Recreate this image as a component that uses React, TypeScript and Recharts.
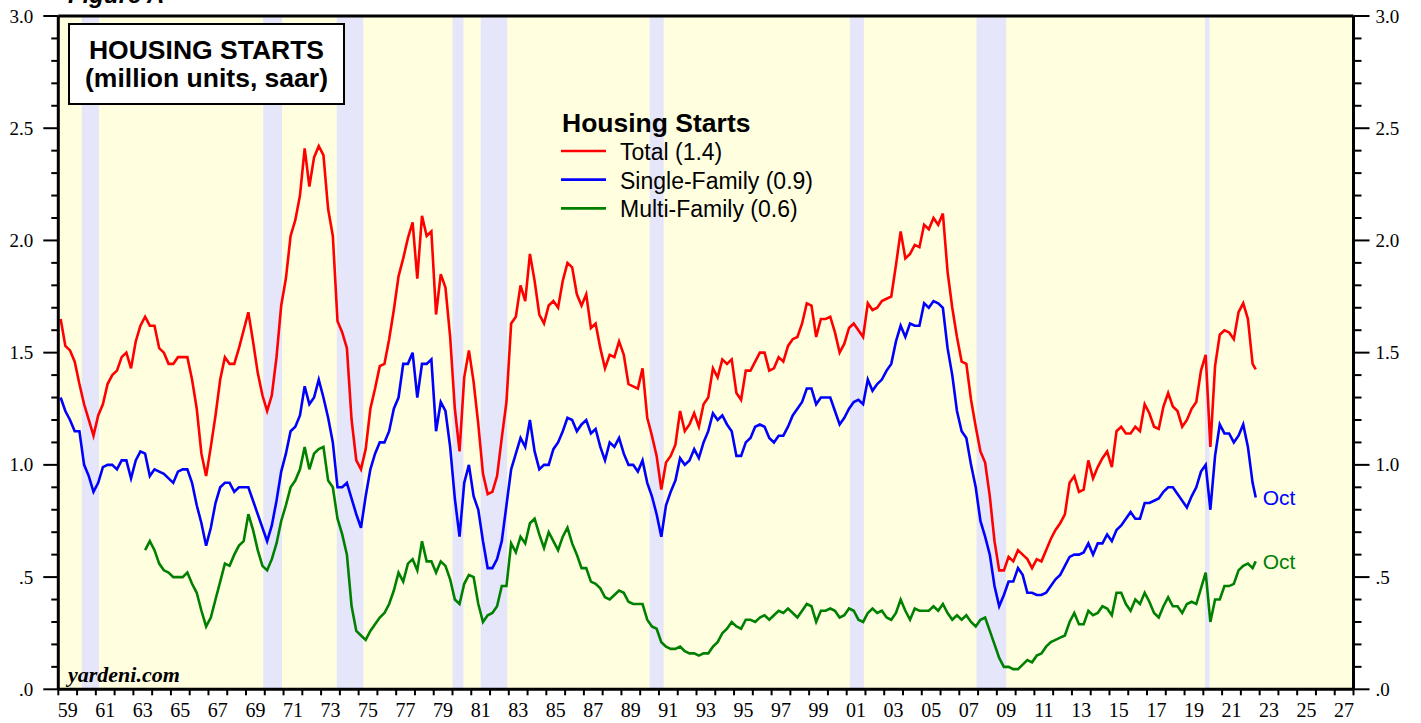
import React from 'react';
import { LineChart, Line, XAxis, YAxis, ReferenceArea, ReferenceLine } from 'recharts';

// ---------------- data (quarterly, million units saar) ----------------
const FIRST_YEAR = 1959;
const LAST_AXIS_YEAR = 2028;
const MULTI_START_INDEX = 18; // multi-family series begins 1963 Q3

const totalStarts = [
  1.65, 1.53, 1.51, 1.46, // 1959
  1.36, 1.27, 1.2, 1.13, // 1960
  1.22, 1.27, 1.36, 1.4, // 1961
  1.42, 1.48, 1.5, 1.43, // 1962
  1.55, 1.62, 1.66, 1.62, // 1963
  1.62, 1.52, 1.5, 1.45, // 1964
  1.45, 1.48, 1.48, 1.48, // 1965
  1.38, 1.25, 1.05, 0.95, // 1966
  1.08, 1.22, 1.38, 1.48, // 1967
  1.45, 1.45, 1.52, 1.6, // 1968
  1.68, 1.55, 1.41, 1.31, // 1969
  1.24, 1.31, 1.48, 1.71, // 1970
  1.83, 2.02, 2.09, 2.2, // 1971
  2.41, 2.24, 2.37, 2.42, // 1972
  2.38, 2.14, 2.02, 1.64, // 1973
  1.59, 1.52, 1.2, 1.02, // 1974
  0.98, 1.07, 1.25, 1.34, // 1975
  1.44, 1.45, 1.56, 1.69, // 1976
  1.84, 1.92, 2.01, 2.08, // 1977
  1.83, 2.11, 2.02, 2.04, // 1978
  1.67, 1.85, 1.79, 1.57, // 1979
  1.25, 1.06, 1.39, 1.51, // 1980
  1.37, 1.18, 0.96, 0.87, // 1981
  0.88, 0.95, 1.12, 1.28, // 1982
  1.63, 1.66, 1.8, 1.73, // 1983
  1.94, 1.82, 1.67, 1.63, // 1984
  1.71, 1.73, 1.7, 1.82, // 1985
  1.9, 1.88, 1.76, 1.71, // 1986
  1.76, 1.61, 1.63, 1.52, // 1987
  1.43, 1.49, 1.48, 1.55, // 1988
  1.49, 1.36, 1.35, 1.34, // 1989
  1.43, 1.21, 1.13, 1.04, // 1990
  0.89, 1.01, 1.04, 1.09, // 1991
  1.24, 1.15, 1.18, 1.23, // 1992
  1.17, 1.27, 1.3, 1.43, // 1993
  1.39, 1.47, 1.45, 1.47, // 1994
  1.32, 1.29, 1.42, 1.42, // 1995
  1.46, 1.5, 1.5, 1.42, // 1996
  1.43, 1.48, 1.46, 1.53, // 1997
  1.56, 1.57, 1.63, 1.72, // 1998
  1.71, 1.57, 1.65, 1.65, // 1999
  1.66, 1.59, 1.5, 1.54, // 2000
  1.61, 1.63, 1.6, 1.57, // 2001
  1.72, 1.69, 1.7, 1.73, // 2002
  1.74, 1.75, 1.89, 2.04, // 2003
  1.92, 1.94, 1.98, 1.97, // 2004
  2.07, 2.05, 2.1, 2.07, // 2005
  2.12, 1.86, 1.7, 1.57, // 2006
  1.46, 1.45, 1.29, 1.17, // 2007
  1.06, 1.01, 0.86, 0.66, // 2008
  0.53, 0.53, 0.59, 0.57, // 2009
  0.62, 0.6, 0.58, 0.54, // 2010
  0.58, 0.57, 0.62, 0.67, // 2011
  0.71, 0.74, 0.78, 0.92, // 2012
  0.95, 0.88, 0.89, 1.02, // 2013
  0.94, 0.99, 1.03, 1.06, // 2014
  0.99, 1.15, 1.17, 1.14, // 2015
  1.14, 1.17, 1.15, 1.27, // 2016
  1.23, 1.17, 1.16, 1.26, // 2017
  1.32, 1.26, 1.24, 1.17, // 2018
  1.2, 1.25, 1.28, 1.42, // 2019
  1.49, 1.08, 1.44, 1.58, // 2020
  1.6, 1.59, 1.56, 1.68, // 2021
  1.72, 1.65, 1.45, // 2022
];

const singleFamilyStarts = [
  1.3, 1.24, 1.2, 1.15, // 1959
  1.15, 1.0, 0.95, 0.88, // 1960
  0.92, 0.99, 1.0, 1.0, // 1961
  0.98, 1.02, 1.02, 0.94, // 1962
  1.02, 1.06, 1.05, 0.95, // 1963
  0.98, 0.97, 0.96, 0.94, // 1964
  0.92, 0.97, 0.98, 0.98, // 1965
  0.92, 0.82, 0.74, 0.64, // 1966
  0.72, 0.83, 0.9, 0.92, // 1967
  0.92, 0.88, 0.9, 0.9, // 1968
  0.9, 0.84, 0.78, 0.72, // 1969
  0.66, 0.73, 0.84, 0.97, // 1970
  1.05, 1.15, 1.17, 1.22, // 1971
  1.35, 1.27, 1.3, 1.38, // 1972
  1.3, 1.21, 1.1, 0.9, // 1973
  0.9, 0.92, 0.85, 0.78, // 1974
  0.72, 0.86, 0.98, 1.05, // 1975
  1.1, 1.1, 1.15, 1.25, // 1976
  1.3, 1.45, 1.45, 1.5, // 1977
  1.3, 1.45, 1.45, 1.47, // 1978
  1.15, 1.28, 1.24, 1.08, // 1979
  0.85, 0.68, 0.92, 1.0, // 1980
  0.86, 0.8, 0.66, 0.54, // 1981
  0.54, 0.58, 0.66, 0.82, // 1982
  0.98, 1.05, 1.12, 1.08, // 1983
  1.2, 1.06, 0.98, 1.0, // 1984
  1.0, 1.07, 1.1, 1.15, // 1985
  1.21, 1.2, 1.15, 1.18, // 1986
  1.2, 1.14, 1.16, 1.08, // 1987
  1.02, 1.1, 1.08, 1.12, // 1988
  1.05, 1.0, 1.0, 0.97, // 1989
  1.02, 0.92, 0.86, 0.78, // 1990
  0.68, 0.82, 0.88, 0.93, // 1991
  1.03, 1.0, 1.02, 1.07, // 1992
  1.03, 1.1, 1.15, 1.23, // 1993
  1.2, 1.22, 1.18, 1.15, // 1994
  1.04, 1.04, 1.1, 1.12, // 1995
  1.17, 1.18, 1.17, 1.12, // 1996
  1.1, 1.13, 1.13, 1.17, // 1997
  1.22, 1.25, 1.28, 1.34, // 1998
  1.34, 1.27, 1.3, 1.3, // 1999
  1.3, 1.24, 1.18, 1.21, // 2000
  1.25, 1.28, 1.29, 1.27, // 2001
  1.38, 1.33, 1.36, 1.38, // 2002
  1.42, 1.45, 1.55, 1.62, // 2003
  1.57, 1.63, 1.62, 1.62, // 2004
  1.72, 1.7, 1.73, 1.72, // 2005
  1.7, 1.52, 1.4, 1.24, // 2006
  1.15, 1.12, 1.0, 0.9, // 2007
  0.75, 0.68, 0.6, 0.46, // 2008
  0.37, 0.42, 0.48, 0.48, // 2009
  0.54, 0.51, 0.43, 0.43, // 2010
  0.42, 0.42, 0.43, 0.46, // 2011
  0.49, 0.51, 0.55, 0.59, // 2012
  0.6, 0.6, 0.61, 0.65, // 2013
  0.6, 0.65, 0.65, 0.69, // 2014
  0.66, 0.71, 0.73, 0.76, // 2015
  0.79, 0.76, 0.76, 0.83, // 2016
  0.83, 0.84, 0.85, 0.88, // 2017
  0.9, 0.9, 0.87, 0.84, // 2018
  0.81, 0.86, 0.9, 0.97, // 2019
  1.0, 0.8, 1.04, 1.18, // 2020
  1.14, 1.14, 1.1, 1.13, // 2021
  1.18, 1.08, 0.92, // 2022
];

const multiFamilyStarts = [
  0.62, 0.66, // 1963 Q3-Q4
  0.62, 0.56, 0.53, 0.52, // 1964
  0.5, 0.5, 0.5, 0.52, // 1965
  0.47, 0.43, 0.35, 0.28, // 1966
  0.32, 0.4, 0.48, 0.56, // 1967
  0.55, 0.6, 0.64, 0.66, // 1968
  0.78, 0.71, 0.62, 0.55, // 1969
  0.53, 0.58, 0.65, 0.75, // 1970
  0.82, 0.9, 0.93, 0.98, // 1971
  1.08, 0.98, 1.05, 1.07, // 1972
  1.08, 0.93, 0.9, 0.76, // 1973
  0.69, 0.6, 0.37, 0.26, // 1974
  0.24, 0.22, 0.26, 0.29, // 1975
  0.32, 0.34, 0.38, 0.44, // 1976
  0.52, 0.48, 0.56, 0.58, // 1977
  0.53, 0.66, 0.57, 0.57, // 1978
  0.52, 0.57, 0.55, 0.49, // 1979
  0.4, 0.38, 0.47, 0.51, // 1980
  0.5, 0.38, 0.3, 0.33, // 1981
  0.34, 0.37, 0.46, 0.46, // 1982
  0.65, 0.61, 0.68, 0.65, // 1983
  0.74, 0.76, 0.69, 0.63, // 1984
  0.7, 0.66, 0.62, 0.68, // 1985
  0.72, 0.65, 0.6, 0.54, // 1986
  0.54, 0.48, 0.47, 0.45, // 1987
  0.41, 0.4, 0.42, 0.44, // 1988
  0.43, 0.39, 0.38, 0.38, // 1989
  0.38, 0.31, 0.28, 0.27, // 1990
  0.21, 0.19, 0.18, 0.18, // 1991
  0.19, 0.17, 0.16, 0.16, // 1992
  0.15, 0.16, 0.16, 0.19, // 1993
  0.21, 0.25, 0.27, 0.3, // 1994
  0.28, 0.27, 0.31, 0.31, // 1995
  0.3, 0.32, 0.33, 0.31, // 1996
  0.33, 0.35, 0.34, 0.36, // 1997
  0.34, 0.32, 0.35, 0.38, // 1998
  0.37, 0.3, 0.35, 0.35, // 1999
  0.36, 0.35, 0.32, 0.33, // 2000
  0.36, 0.35, 0.31, 0.3, // 2001
  0.34, 0.36, 0.34, 0.35, // 2002
  0.32, 0.31, 0.34, 0.4, // 2003
  0.35, 0.31, 0.36, 0.35, // 2004
  0.35, 0.35, 0.37, 0.35, // 2005
  0.38, 0.34, 0.31, 0.33, // 2006
  0.31, 0.33, 0.3, 0.28, // 2007
  0.31, 0.32, 0.26, 0.2, // 2008
  0.14, 0.1, 0.1, 0.09, // 2009
  0.09, 0.11, 0.13, 0.12, // 2010
  0.15, 0.16, 0.19, 0.21, // 2011
  0.22, 0.23, 0.24, 0.3, // 2012
  0.34, 0.29, 0.29, 0.35, // 2013
  0.33, 0.34, 0.37, 0.36, // 2014
  0.33, 0.43, 0.43, 0.38, // 2015
  0.35, 0.4, 0.38, 0.43, // 2016
  0.39, 0.34, 0.32, 0.37, // 2017
  0.41, 0.37, 0.37, 0.34, // 2018
  0.38, 0.39, 0.38, 0.45, // 2019
  0.52, 0.3, 0.4, 0.4, // 2020
  0.46, 0.46, 0.47, 0.53, // 2021
  0.55, 0.56, 0.54, // 2022
];

// latest monthly reading (October 2022)
const latestMonth = { label: 'Oct', year: 2022, month: 10, total: 1.425, single: 0.855, multi: 0.57 };

// NBER recessions: [peak year, peak month, trough year, trough month]
const recessions: [number, number, number, number][] = [
  [1960, 4, 1961, 2],
  [1969, 12, 1970, 11],
  [1973, 11, 1975, 3],
  [1980, 1, 1980, 7],
  [1981, 7, 1982, 11],
  [1990, 7, 1991, 3],
  [2001, 3, 2001, 11],
  [2007, 12, 2009, 6],
  [2020, 2, 2020, 4],
];

const legendItems = [
  { name: 'Total (1.4)', color: '#FF0000' },
  { name: 'Single-Family (0.9)', color: '#0000FF' },
  { name: 'Multi-Family (0.6)', color: '#008000' },
];

// ---------------- chart table ----------------
type Row = { t: number; total: number; single: number; multi: number | null };
const data: Row[] = totalStarts.map((v, i) => ({
  t: FIRST_YEAR + (i + 0.5) / 4,
  total: v,
  single: singleFamilyStarts[i],
  multi: i >= MULTI_START_INDEX ? multiFamilyStarts[i - MULTI_START_INDEX] : null,
}));
data.push({
  t: latestMonth.year + (latestMonth.month - 0.5) / 12,
  total: latestMonth.total,
  single: latestMonth.single,
  multi: latestMonth.multi,
});
const LAST_INDEX = data.length - 1;

const yTicks = Array.from({ length: 31 }, (_, i) => i / 10);
const xTicks = Array.from({ length: LAST_AXIS_YEAR - FIRST_YEAR + 1 }, (_, i) => FIRST_YEAR + i);

// ---------------- geometry / style ----------------
const W = 1421;
const H = 723;
const LEFT_W = 58.3;
const RIGHT_W = 67.5;
const TOP = 16;
const XAXIS_H = 33.7;
const PX_PER_YEAR = (W - LEFT_W - RIGHT_W) / (LAST_AXIS_YEAR - FIRST_YEAR);
const SERIF = '"Liberation Serif", "Times New Roman", serif';
const SANS = '"Liberation Sans", Arial, sans-serif';
const BG = '#FFFFE0';
const BAND = '#E6E6FA';

const isMajor = (v: number) => Math.abs(v * 2 - Math.round(v * 2)) < 1e-6;
const fmtY = (v: number) => (v < 1 ? v.toFixed(1).slice(1) : v.toFixed(1));

const LeftTick = (props: any) => {
  const { x, y, payload } = props;
  const v = payload.value as number;
  const major = isMajor(v);
  return (
    <g>
      <line x1={x} x2={x - (major ? 15 : 7)} y1={y} y2={y} stroke="#000" strokeWidth={2} />
      {major && (
        <text x={x - 25} y={y} textAnchor="end" dominantBaseline="central" fontFamily={SERIF} fontSize={19} fill="#000">
          {fmtY(v)}
        </text>
      )}
    </g>
  );
};

const RightTick = (props: any) => {
  const { x, y, payload } = props;
  const v = payload.value as number;
  const major = isMajor(v);
  return (
    <g>
      <line x1={x} x2={x + (major ? 16 : 8)} y1={y} y2={y} stroke="#000" strokeWidth={2} />
      {major && (
        <text x={x + 22} y={y} textAnchor="start" dominantBaseline="central" fontFamily={SERIF} fontSize={19} fill="#000">
          {fmtY(v)}
        </text>
      )}
    </g>
  );
};

const BottomTick = (props: any) => {
  const { x, y, payload } = props;
  const yr = payload.value as number;
  const labelled = yr % 2 === 1 && yr < LAST_AXIS_YEAR;
  return (
    <g>
      <line x1={x} x2={x} y1={y} y2={y + 6} stroke="#000" strokeWidth={2} />
      {labelled && (
        <text x={x + PX_PER_YEAR / 2} y={y + 28} textAnchor="middle" fontFamily={SERIF} fontSize={20} fill="#000">
          {String(yr % 100).padStart(2, '0')}
        </text>
      )}
    </g>
  );
};

const octLabel = (color: string) => (props: any) => {
  const { x, y, index } = props;
  if (index !== LAST_INDEX) return null;
  return (
    <text x={x + 7} y={y} dominantBaseline="central" fontFamily={SANS} fontSize={21} fill={color}>
      {latestMonth.label}
    </text>
  );
};

export default function App() {
  return (
    <div style={{ position: 'absolute', left: 0, top: 0, width: W, height: H, background: '#fff', overflow: 'hidden' }}>
      <LineChart width={W} height={H} data={data} margin={{ top: TOP, right: 0, bottom: 0, left: 0 }}>
        <XAxis
          dataKey="t"
          type="number"
          domain={[FIRST_YEAR, LAST_AXIS_YEAR]}
          allowDataOverflow
          ticks={xTicks}
          interval={0}
          tickSize={0}
          tickMargin={0}
          tickLine={false}
          axisLine={{ stroke: '#000', strokeWidth: 3 }}
          tick={<BottomTick />}
          height={XAXIS_H}
        />
        <YAxis
          yAxisId="left"
          domain={[0, 3]}
          allowDataOverflow
          ticks={yTicks}
          interval={0}
          tickSize={0}
          tickMargin={0}
          tickLine={false}
          axisLine={{ stroke: '#000', strokeWidth: 3 }}
          tick={<LeftTick />}
          width={LEFT_W}
        />
        <YAxis
          yAxisId="right"
          orientation="right"
          domain={[0, 3]}
          allowDataOverflow
          ticks={yTicks}
          interval={0}
          tickSize={0}
          tickMargin={0}
          tickLine={false}
          axisLine={{ stroke: '#000', strokeWidth: 3 }}
          tick={<RightTick />}
          width={RIGHT_W}
        />
        <ReferenceArea yAxisId="left" x1={FIRST_YEAR} x2={LAST_AXIS_YEAR} y1={0} y2={3} fill={BG} fillOpacity={1} stroke="none" />
        {recessions.map(([py, pm, ty, tm], i) => (
          <ReferenceArea
            key={i}
            yAxisId="left"
            x1={py + (pm - 1) / 12}
            x2={ty + tm / 12}
            y1={0}
            y2={3}
            fill={BAND}
            fillOpacity={1}
            stroke="none"
          />
        ))}
        <ReferenceLine yAxisId="left" y={3} stroke="#000" strokeWidth={3} />
        <Line
          yAxisId="left"
          dataKey="multi"
          stroke="#008000"
          strokeWidth={2.6}
          dot={false}
          isAnimationActive={false}
          label={octLabel('#008000')}
        />
        <Line
          yAxisId="left"
          dataKey="single"
          stroke="#0000FF"
          strokeWidth={2.6}
          dot={false}
          isAnimationActive={false}
          label={octLabel('#0000FF')}
        />
        <Line yAxisId="left" dataKey="total" stroke="#FF0000" strokeWidth={2.6} dot={false} isAnimationActive={false} />
      </LineChart>

      <svg width={W} height={H} style={{ position: 'absolute', left: 0, top: 0, pointerEvents: 'none' }}>
        <text x={68} y={3} fontFamily={SANS} fontWeight="bold" fontStyle="italic" fontSize={24} fill="#000">
          Figure A
        </text>
        <rect x={69} y={24} width={275} height={80} fill="#fff" stroke="#000" strokeWidth={2} />
        <text x={206.5} y={59.3} textAnchor="middle" fontFamily={SANS} fontWeight="bold" fontSize={26.5} fill="#000">
          HOUSING STARTS
        </text>
        <text x={206.5} y={87.3} textAnchor="middle" fontFamily={SANS} fontWeight="bold" fontSize={26.5} fill="#000">
          (million units, saar)
        </text>
        <text x={562} y={132} fontFamily={SANS} fontWeight="bold" fontSize={26.5} fill="#000">
          Housing Starts
        </text>
        {legendItems.map((it, i) => (
          <g key={it.name}>
            <line x1={561} x2={606} y1={151 + i * 28.7} y2={151 + i * 28.7} stroke={it.color} strokeWidth={2.7} />
            <text x={620} y={160 + i * 28.5} fontFamily={SANS} fontSize={23} fill="#000">
              {it.name}
            </text>
          </g>
        ))}
        <text x={68} y={682} fontFamily={SERIF} fontWeight="bold" fontStyle="italic" fontSize={22} fill="#000">
          yardeni.com
        </text>
      </svg>
    </div>
  );
}
